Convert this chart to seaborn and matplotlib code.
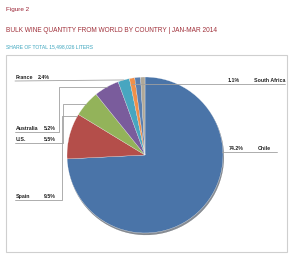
import numpy as np
import matplotlib
matplotlib.use("Agg")
import matplotlib.pyplot as plt
import seaborn as sns
from matplotlib.patches import Rectangle

# Data: share of bulk wine quantity, Jan-Mar 2014 (clockwise from 12 o'clock)
countries = ["Chile", "Spain", "U.S.", "Australia", "France", "South Africa", "Other A", "Other B"]
shares = [74.2, 9.5, 5.5, 5.2, 2.4, 1.1, 1.2, 0.9]
pct_labels = ["74.2%", "9.5%", "5.5%", "5.2%", "2.4%", "1.1%", "", ""]
slice_colors = ["#4a74a8", "#b44e4a", "#93b35a", "#7a5c9c", "#48a6c0", "#f0904a", "#5a7fb0", "#b0a898"]

sns.set_theme(style="white")
plt.rcParams['font.family'] = ['Liberation Sans', 'DejaVu Sans']

W, H = 294, 256
fig = plt.figure(figsize=(W / 100, H / 100), dpi=100)
ax = fig.add_axes([0, 0, 1, 1])

# Pie (pixel coordinates, y up)
cx, cy, r = 145, H - 155, 78
wedges, _ = ax.pie(shares, colors=slice_colors, startangle=90, counterclock=False,
                   center=(cx, cy), radius=r,
                   wedgeprops=dict(edgecolor="white", linewidth=0.2),
                   shadow=dict(ox=0.6, oy=-1.4, shade=0.75))
ax.set_xlim(0, W)
ax.set_ylim(0, H)
ax.set_aspect("auto")
ax.axis("off")


def anchor(i, frac=0.5):
    w = wedges[i]
    a = np.deg2rad(w.theta1 + frac * (w.theta2 - w.theta1))
    return cx + r * np.cos(a), cy + r * np.sin(a)


lc = "#a0a0a0"
lw = 0.6
lab_kw = dict(fontsize=3.8, fontweight="bold", color="#222222", va="bottom")

# France: straight leader
fx, fy = anchor(4)
ax.plot([15, fx], [H - 81, fy], color=lc, lw=lw)
ax.text(16, H - 80, countries[4], **lab_kw)
ax.text(50, H - 80, pct_labels[4], ha="right", **lab_kw)

# Australia: elbow leader
axx, ayy = anchor(3)
ax.plot([15, 59, 59, axx], [H - 132, H - 132, ayy, ayy], color=lc, lw=lw)
ax.text(16, H - 131, countries[3], **lab_kw)
ax.text(56, H - 131, pct_labels[3], ha="right", **lab_kw)

# U.S.
ux, uy = anchor(2)
ax.plot([15, 63, 63, ux], [H - 143, H - 143, uy, uy], color=lc, lw=lw)
ax.text(16, H - 142, countries[2], **lab_kw)
ax.text(56, H - 142, pct_labels[2], ha="right", **lab_kw)

# Spain
sx, sy = anchor(1, 0.05)
ax.plot([15, 62, 62, sx], [H - 200, H - 200, sy, sy], color=lc, lw=lw)
ax.text(16, H - 199, countries[1], **lab_kw)
ax.text(56, H - 199, pct_labels[1], ha="right", **lab_kw)

# South Africa (right)
zx, zy = anchor(5)
ax.plot([zx, 285], [H - 84, H - 84], color=lc, lw=lw)
ax.text(228, H - 83, pct_labels[5], **lab_kw)
ax.text(254, H - 83, countries[5], **lab_kw)

# Chile (right)
ax.plot([cx + r - 1, 277], [H - 152, H - 152], color=lc, lw=lw)
ax.text(229, H - 151, pct_labels[0], **lab_kw)
ax.text(258, H - 151, countries[0], **lab_kw)

# Frame around the chart
ax.add_patch(Rectangle((6, H - 252), 281, 197, fill=False, edgecolor="#cfcfcf", lw=0.8))

# Header texts
ax.text(6, H - 10, "Figure 2", fontsize=4.6, color="#9b2335", va="center")
ax.text(6, H - 30, "BULK WINE QUANTITY FROM WORLD BY COUNTRY | JAN-MAR 2014",
        fontsize=4.7, color="#a0303a", va="center")
ax.text(6, H - 47, "SHARE OF TOTAL 15,498,026 LITERS", fontsize=3.6, color="#3ba5be", va="center")

fig.savefig("out.png", dpi=100, facecolor="white")
